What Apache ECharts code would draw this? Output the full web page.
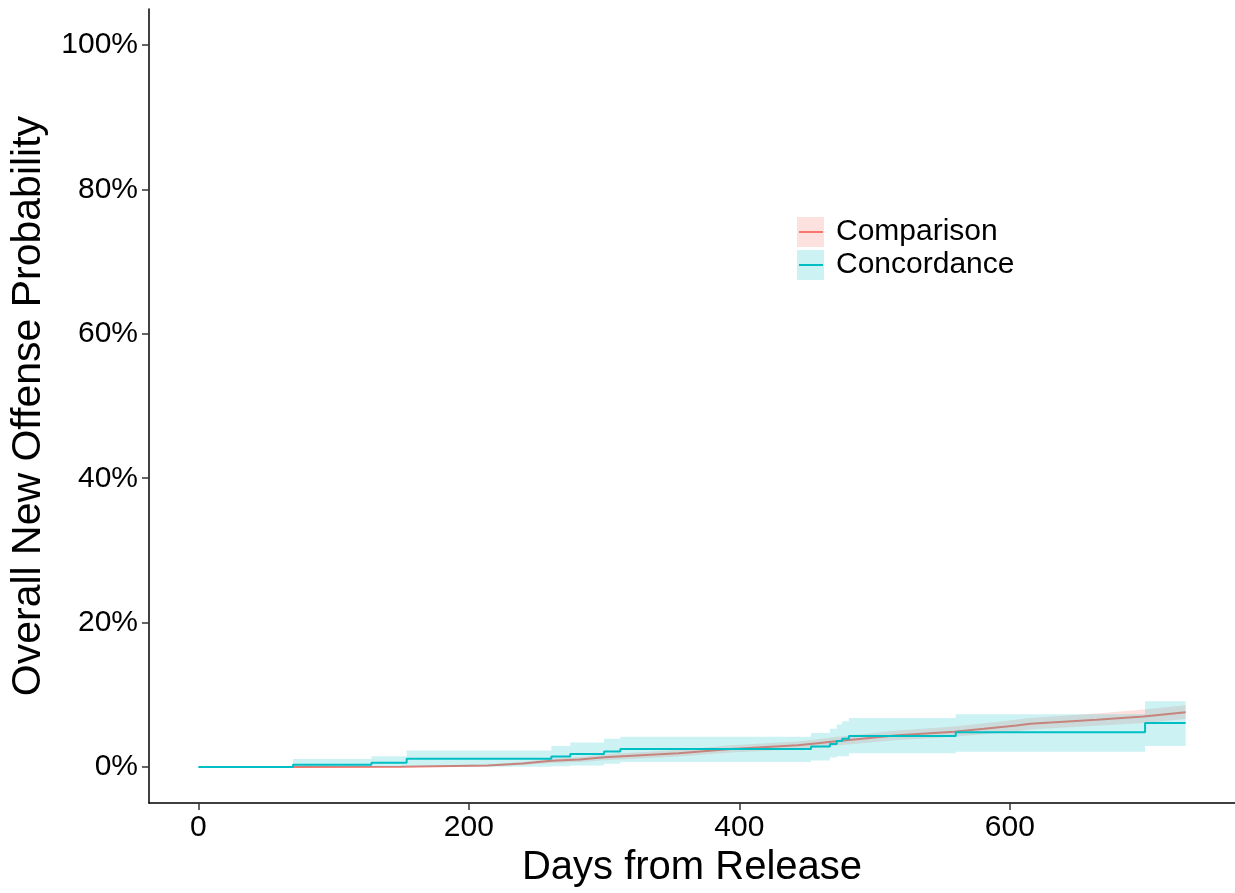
<!DOCTYPE html>
<html>
<head>
<meta charset="utf-8">
<title>Overall New Offense Probability</title>
<script src="https://cdn.jsdelivr.net/npm/echarts@6/dist/echarts.min.js"></script>
<style>
  html, body { margin: 0; padding: 0; background: #fff; }
  #chart { width: 1235px; height: 893px; }
</style>
</head>
<body>
<div id="chart"></div>
<script>
// tick labels
var xTicks = [0, 200, 400, 600]
var yTicks = [0, 20, 40, 60, 80, 100]

// Comparison group (percent)
var compDays  = [70, 150, 214, 240, 261, 282, 300, 355, 394, 443, 458, 468, 517, 559, 581, 605, 615, 664, 699, 730]
var compEst   = [0, 0.02, 0.2, 0.5, 0.85, 1.05, 1.35, 1.9, 2.5, 3.0, 3.3, 3.5, 4.4, 4.9, 5.3, 5.75, 6.0, 6.55, 7.0, 7.6]
var compLower = [0, 0, 0.1, 0.3, 0.55, 0.7, 0.95, 1.45, 2.0, 2.45, 2.75, 2.9, 3.75, 4.2, 4.55, 4.95, 5.2, 5.7, 6.1, 6.65]
var compUpper = [0.05, 0.1, 0.35, 0.7, 1.15, 1.4, 1.75, 2.35, 3.0, 3.55, 3.85, 4.1, 5.05, 5.6, 6.05, 6.55, 6.8, 7.4, 7.95, 8.55]

// Concordance group (percent), step function
var concDays  = [0, 70, 128, 154, 261, 275, 300, 312, 453, 467, 472, 476, 481, 560, 700, 730]
var concEst   = [0, 0.3, 0.6, 1.15, 1.45, 1.8, 2.15, 2.5, 2.85, 3.2, 3.6, 3.9, 4.3, 4.8, 6.1, 6.1]
var concLower = [0, 0, 0, 0.05, 0.1, 0.2, 0.45, 0.7, 0.9, 1.3, 1.5, 1.5, 1.9, 2.1, 2.9, 2.9]
var concUpper = [0, 1.1, 1.5, 2.3, 2.9, 3.4, 3.9, 4.2, 4.7, 5.3, 5.9, 6.35, 6.8, 7.3, 9.1, 9.1]

var red = '#F8766D'
var cyan = '#00BFC4'
var font = '"Liberation Sans", Arial, Helvetica, sans-serif'

function pairs (xs, ys) {
  return xs.map(function (x, i) { return [x, ys[i]] })
}
function rows (xs, lo, hi) {
  return xs.map(function (x, i) { return [x, lo[i], hi[i]] })
}

// confidence ribbon as one polygon, drawn through the axes
function ribbon (xs, lo, hi, step, color, alpha, z) {
  return {
    type: 'custom',
    silent: true,
    z: z,
    data: rows(xs, lo, hi),
    encode: { x: 0, y: [1, 2] },
    renderItem: function (params, api) {
      if (params.dataIndex !== 0) return null
      var low = []
      var up = []
      for (var i = 0; i < xs.length; i++) {
        if (step && i > 0) {
          low.push(api.coord([xs[i], lo[i - 1]]))
          up.push(api.coord([xs[i], hi[i - 1]]))
        }
        low.push(api.coord([xs[i], lo[i]]))
        up.push(api.coord([xs[i], hi[i]]))
      }
      return {
        type: 'polygon',
        shape: { points: low.concat(up.reverse()) },
        style: { fill: color, opacity: alpha }
      }
    }
  }
}

var option = {
  animation: false,
  textStyle: { fontFamily: font },
  grid: {
    left: 148,
    top: 9,
    width: 1093,
    height: 796
  },
  legend: {
    orient: 'vertical',
    left: 797,
    top: 217,
    padding: 0,
    itemWidth: 27,
    itemHeight: 30,
    itemGap: 3,
    selectedMode: false,
    textStyle: { fontSize: 30, color: '#000', fontFamily: font, padding: [0, 0, 0, 7] },
    data: [
      { name: 'Comparison', icon: 'rect', itemStyle: { color: 'rgba(248,118,109,0.22)', borderWidth: 0 } },
      { name: 'Concordance', icon: 'rect', itemStyle: { color: 'rgba(0,191,196,0.2)', borderWidth: 0 } }
    ]
  },
  graphic: [
    { type: 'line', shape: { x1: 799, y1: 232, x2: 823, y2: 232 }, style: { stroke: red, lineWidth: 2 }, z: 100 },
    { type: 'line', shape: { x1: 799, y1: 265, x2: 823, y2: 265 }, style: { stroke: cyan, lineWidth: 2 }, z: 100 }
  ],
  xAxis: {
    type: 'value',
    min: -36.5,
    max: 766.5,
    name: 'Days from Release',
    nameLocation: 'middle',
    nameGap: 41,
    nameTextStyle: { fontSize: 40, color: '#000', fontFamily: font },
    axisLine: { show: true, onZero: false, lineStyle: { color: '#000', width: 1.5 } },
    axisTick: { show: true, length: 7, customValues: xTicks, lineStyle: { color: '#333', width: 1.5 } },
    axisLabel: { customValues: xTicks, fontSize: 30, color: '#000', margin: 10, fontFamily: font },
    splitLine: { show: false }
  },
  yAxis: {
    type: 'value',
    min: -5,
    max: 105,
    name: 'Overall New Offense Probability',
    nameLocation: 'middle',
    nameGap: 100,
    nameTextStyle: { fontSize: 41, color: '#000', fontFamily: font },
    axisLine: { show: true, onZero: false, lineStyle: { color: '#000', width: 1.5 } },
    axisTick: { show: true, length: 7, customValues: yTicks, lineStyle: { color: '#333', width: 1.5 } },
    axisLabel: {
      customValues: yTicks,
      fontSize: 30,
      color: '#000',
      margin: 11,
      fontFamily: font,
      formatter: function (v) { return v + '%' }
    },
    splitLine: { show: false }
  },
  series: [
    ribbon(compDays, compLower, compUpper, false, red, 0.22, 1),
    {
      name: 'Comparison',
      type: 'line',
      z: 2,
      symbol: 'none',
      color: red,
      lineStyle: { color: red, width: 2 },
      data: pairs(compDays, compEst)
    },
    ribbon(concDays, concLower, concUpper, true, cyan, 0.2, 3),
    {
      name: 'Concordance',
      type: 'line',
      z: 4,
      step: 'end',
      symbol: 'none',
      color: cyan,
      lineStyle: { color: cyan, width: 2 },
      data: pairs(concDays, concEst)
    }
  ]
}

var chart = echarts.init(document.getElementById('chart'))
chart.setOption(option)
window.addEventListener('resize', function () { chart.resize() })
</script>
</body>
</html>
